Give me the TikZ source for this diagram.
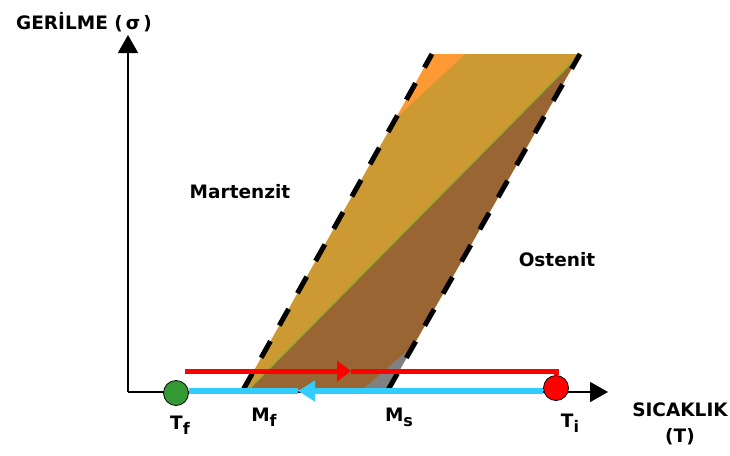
\documentclass[tikz,border=0pt]{standalone}
\usepackage{fontspec}
\setmainfont{DejaVu Sans}
\usetikzlibrary{arrows.meta}
\definecolor{orng}{HTML}{FF9933}
\definecolor{gold}{HTML}{CC9933}
\definecolor{brwn}{HTML}{996633}
\definecolor{olv}{HTML}{99AA33}
\definecolor{gry}{HTML}{808080}
\definecolor{sky}{HTML}{33CCFF}
\definecolor{grn}{HTML}{339933}
\definecolor{rd}{HTML}{FF0000}
\newcommand{\sbs}[1]{\raisebox{-5pt}{\fontsize{16}{16}\selectfont #1}}
\begin{document}
\begin{tikzpicture}[x=1pt,y=-1pt,
  lbl/.style={font=\fontsize{18.5}{21}\selectfont\bfseries, inner sep=0pt, align=center},
  edgedash/.style={line width=5pt, dash pattern=on 19pt off 18pt, black},
  axis/.style={line width=1.6pt, -{Triangle[length=18pt,width=20pt]}},
  dot/.style={circle, draw=black, line width=0.8pt, minimum size=25pt, inner sep=0pt},
  redline/.style={rd, line width=5pt},
  blueline/.style={sky, line width=6pt}]
\useasboundingbox (0,0) rectangle (730,455);
\fill[white] (0,0) rectangle (730,455);
% parallelogram corners
\coordinate (BL) at (243,390);
\coordinate (BR) at (388,390);
\coordinate (TR) at (580,54);
\coordinate (TL) at (432,54);
\coordinate (DL) at (248,390);
\coordinate (OA) at (465,54);
\coordinate (OB) at (396,118);
\coordinate (GA) at (362,390);
\coordinate (GB) at (414,345);
\fill[gold] (BL) -- (TL) -- (TR) -- (BR) -- cycle;
\fill[brwn] (DL) -- (TR) -- (BR) -- cycle;
\fill[orng] (TL) -- (OA) -- (OB) -- cycle;
\fill[gry] (GA) -- (GB) -- (BR) -- cycle;
\draw[olv, line width=1.5pt] (DL) -- (TR);
\draw[edgedash, xshift=-2pt] (BL) -- (TL);
\draw[edgedash, xshift=2pt] (BR) -- (TR);
% axes
\coordinate (O) at (128,392);
\coordinate (YT) at (128,35);
\coordinate (XT) at (608,392);
\draw[axis] (O) -- (YT);
\draw[axis] (O) -- (XT);
% circles
\node[dot, fill=grn] (tf) at (176,393) {};
\node[dot, fill=rd] (ti) at (556,388) {};
% blue path (cooling)
\coordinate (bs) at (556,391);
\coordinate (bm) at (298,391);
\coordinate (be) at (176,391);
\draw[blueline] (bm) -- (tf.east |- be);
\draw[blueline, -{Triangle[length=17pt,width=20pt]}] (ti.west |- bs) -- (bm);
% red path (heating)
\coordinate (rs) at (185,371);
\coordinate (rm) at (351,371);
\coordinate (rc) at (556,371);
\draw[redline, -{Triangle[length=14pt,width=20pt]}] (rs) -- (rm);
\draw[redline] (rm) -- (rc) -- (ti.north);
% labels
\node[lbl] (ylab) at (84,22) {GERİLME (\,σ\,)};
\node[lbl] (mart) at (240,192) {Martenzit};
\node[lbl] (ost) at (557,260) {Ostenit};
\node[lbl] (xlab) at (680,410) {SICAKLIK};
\node[lbl] (xlab2) at (680,437) {(T)};
\node[lbl] (tflab) at (180,425) {T\sbs{f}};
\node[lbl] (mflab) at (264,417) {M\sbs{f}};
\node[lbl] (mslab) at (399,417) {M\sbs{s}};
\node[lbl] (tilab) at (570,423) {T\sbs{i}};
\end{tikzpicture}
\end{document}
